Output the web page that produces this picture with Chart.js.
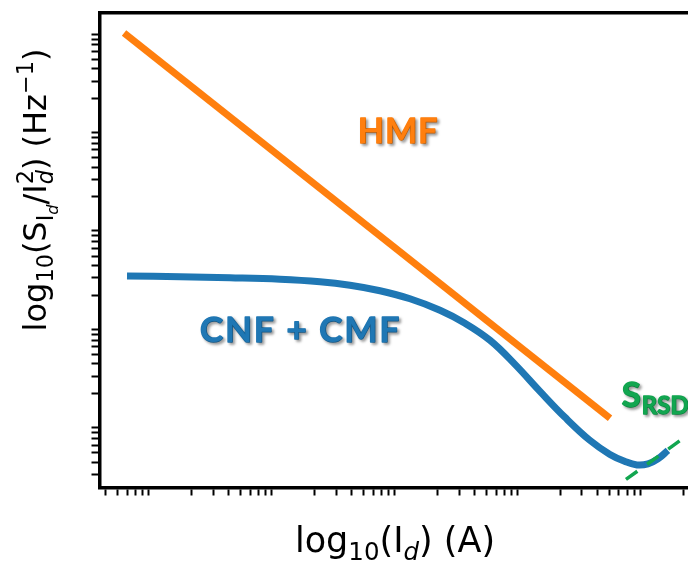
<!DOCTYPE html>
<html>
<head>
<meta charset="utf-8">
<script src="https://cdn.jsdelivr.net/npm/chart.js@4.4.1/dist/chart.umd.min.js"></script>
<style>
  html, body { margin: 0; padding: 0; background: #fff; overflow: hidden; }
  #wrap { width: 688px; height: 564px; }
</style>
</head>
<body>
<div id="wrap"><canvas id="noise-chart" width="688" height="564"></canvas></div>
<script>
// Normalised drain-current noise vs drain current (log-log, no tick labels)

// HMF: straight 1/I line
const hmfCurrent = [5.64e-9, 5.08e-5];
const hmfNoise = [9.23e-9, 1.12e-12];

// CNF + CMF: flat plateau, roll-off, then minimum and rise
const cnfCurrent = [
  5.96e-9, 1.609e-8, 4.107e-8, 1.048e-7, 2.217e-7, 3.889e-7, 6.823e-7,
  1.197e-6, 2.100e-6, 3.354e-6, 5.358e-6, 8.561e-6, 1.367e-5, 2.184e-5,
  3.488e-5, 5.075e-5, 6.722e-5, 8.415e-5, 1.034e-4, 1.247e-4, 1.504e-4
];
const cnfNoise = [
  3.134e-11, 3.077e-11, 3.006e-11, 2.903e-11, 2.737e-11, 2.522e-11, 2.217e-11,
  1.838e-11, 1.404e-11, 1.036e-11, 6.957e-12, 3.963e-12, 2.106e-12, 1.146e-12,
  6.683e-13, 4.815e-13, 4.087e-13, 3.765e-13, 3.855e-13, 4.331e-13, 5.288e-13
];

// S_RSD asymptote (dashed)
const rsdCurrent = [6.85e-5, 2.27e-4];
const rsdNoise = [2.68e-13, 7.85e-13];

// axis limits
const xRange = [3.56e-9, 2.19e-4];
const yRange = [2.22e-13, 1.486e-8];

// only minor ticks (2..9 per decade) are shown
const tickDecades = [-14, -13, -12, -11, -10, -9, -8, -7, -6, -5, -4, -3];
const tickMantissas = [2, 3, 4, 5, 6, 7, 8, 9];

// in-plot labels, anchored in data coordinates (left, baseline)
const plotLabels = [
  { text: 'HMF', x: 4.52e-7, y: 7.02e-10, color: '#ff7f0e', size: 34, spacing: 1 },
  { text: 'CNF + CMF', x: 2.34e-8, y: 6.64e-12, color: '#1f77b4', size: 35, spacing: 2 },
  { text: 'S', sub: 'RSD', x: 6.32e-5, y: 1.46e-12, color: '#12a650', size: 35, spacing: 0 }
];

const toPoints = (xs, ys) => xs.map((x, i) => ({ x, y: ys[i] }));

const minorTicks = (lo, hi) => {
  const out = [];
  tickDecades.forEach(e => tickMantissas.forEach(m => {
    const v = m * Math.pow(10, e);
    if (v >= lo && v <= hi) out.push({ value: v });
  }));
  return out;
};

// --- rich text (sub/superscripts) for the axis titles
const fontOf = (p, size) =>
  `${p.it ? 'italic ' : ''}${(size * (p.s || 1)).toFixed(1)}px "DejaVu Sans"`;

function layoutRich(ctx, parts, size) {
  let cx = 0, prevStart = 0, prevW = 0;
  const placed = parts.map(p => {
    ctx.font = fontOf(p, size);
    const w = ctx.measureText(p.t).width;
    let start;
    if (p.stack) {
      start = prevStart;
      if (w > prevW) cx += w - prevW;
    } else {
      start = cx; cx += w; prevW = w; prevStart = start;
    }
    return { ...p, x: start };
  });
  return { placed, width: cx };
}

function drawRich(ctx, parts, size, cx, cy) {
  const { placed, width } = layoutRich(ctx, parts, size);
  ctx.textBaseline = 'alphabetic';
  ctx.textAlign = 'left';
  placed.forEach(p => {
    ctx.font = fontOf(p, size);
    ctx.fillText(p.t, cx - width / 2 + p.x, cy + (p.dy || 0) * size);
  });
}

const yTitle = [
  { t: 'log' }, { t: '10', s: 0.7, dy: 0.22 }, { t: '(S' },
  { t: 'I', s: 0.7, dy: 0.22 }, { t: 'd', s: 0.5, it: true, dy: 0.36 },
  { t: '/I' }, { t: '2', s: 0.7, dy: -0.42 }, { t: 'd', s: 0.7, it: true, dy: 0.22, stack: true },
  { t: ') (Hz' }, { t: '\u22121', s: 0.7, dy: -0.42 }, { t: ')' }
];
const xTitle = [
  { t: 'log' }, { t: '10', s: 0.7, dy: 0.22 }, { t: '(I' },
  { t: 'd', s: 0.7, it: true, dy: 0.22 }, { t: ') (A)' }
];

const titlePlugin = {
  id: 'axisTitles',
  afterDraw(chart) {
    const ctx = chart.ctx;
    ctx.save();
    ctx.fillStyle = '#000';
    drawRich(ctx, xTitle, 35, 395, 552);
    ctx.translate(46, 190);
    ctx.rotate(-Math.PI / 2);
    drawRich(ctx, yTitle, 32, 0, 0);
    ctx.restore();
  }
};

const labelPlugin = {
  id: 'plotLabels',
  afterDatasetsDraw(chart) {
    const { ctx, scales } = chart;
    ctx.save();
    ctx.shadowColor = 'rgba(0,0,0,0.35)';
    ctx.shadowBlur = 3;
    ctx.shadowOffsetX = 2;
    ctx.shadowOffsetY = 2;
    ctx.textBaseline = 'alphabetic';
    ctx.textAlign = 'left';
    ctx.lineJoin = 'round';
    plotLabels.forEach(l => {
      const px = scales.x.getPixelForValue(l.x);
      const py = scales.y.getPixelForValue(l.y);
      ctx.fillStyle = l.color;
      ctx.strokeStyle = l.color;
      ctx.lineWidth = 1.4;
      ctx.letterSpacing = `${l.spacing}px`;
      ctx.font = `bold ${l.size}px Lato, "Open Sans", sans-serif`;
      ctx.strokeText(l.text, px, py);
      ctx.fillText(l.text, px, py);
      if (l.sub) {
        const w = ctx.measureText(l.text).width;
        ctx.font = `bold ${Math.round(l.size * 0.68)}px Lato, "Open Sans", sans-serif`;
        ctx.strokeText(l.sub, px + w + 1, py + l.size * 0.2);
        ctx.fillText(l.sub, px + w + 1, py + l.size * 0.2);
      }
    });
    ctx.restore();
  }
};

const logAxis = (range, extra) => Object.assign({
  type: 'logarithmic',
  min: range[0],
  max: range[1],
  ticks: { display: false },
  grid: { drawOnChartArea: false, drawTicks: true, tickLength: 8, tickWidth: 2, tickColor: '#000' },
  border: { display: true, width: 3.5, color: '#000' },
  afterBuildTicks: s => { s.ticks = minorTicks(range[0], range[1]); }
}, extra);

new Chart(document.getElementById('noise-chart'), {
  type: 'line',
  data: {
    datasets: [
      {
        label: 'S_RSD',
        data: toPoints(rsdCurrent, rsdNoise),
        borderColor: '#12a650',
        borderWidth: 3.5,
        borderDash: [14, 12],
        pointRadius: 0,
        order: 0,
        xAxisID: 'x', yAxisID: 'y'
      },
      {
        label: 'CNF + CMF',
        data: toPoints(cnfCurrent, cnfNoise),
        borderColor: '#1f77b4',
        borderWidth: 7,
        tension: 0.4,
        borderJoinStyle: 'round',
        pointRadius: 0,
        order: 1,
        xAxisID: 'x', yAxisID: 'y'
      },
      {
        label: 'HMF',
        data: toPoints(hmfCurrent, hmfNoise),
        borderColor: '#ff7f0e',
        borderWidth: 7,
        pointRadius: 0,
        order: 2,
        xAxisID: 'x', yAxisID: 'y'
      }
    ]
  },
  options: {
    responsive: false,
    animation: false,
    devicePixelRatio: 1,
    layout: { padding: 0 },
    plugins: { legend: { display: false }, tooltip: { enabled: false } },
    scales: {
      x: logAxis(xRange, { position: 'bottom', afterFit: s => { s.height = 76.5; } }),
      xTop: {
        type: 'logarithmic', position: 'top', min: xRange[0], max: xRange[1],
        ticks: { display: false },
        grid: { display: false, drawTicks: false },
        border: { display: true, width: 3.5, color: '#000' },
        afterFit: s => { s.height = 12.7; }
      },
      y: logAxis(yRange, { position: 'left', afterFit: s => { s.width = 99.5; } })
    }
  },
  plugins: [labelPlugin, titlePlugin]
});
</script>
</body>
</html>
